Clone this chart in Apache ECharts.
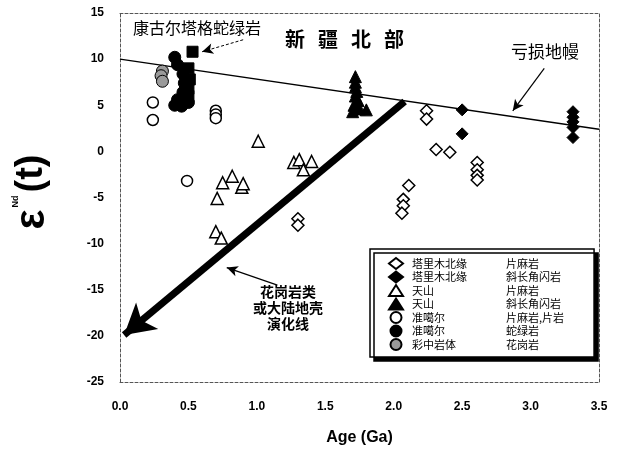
<!DOCTYPE html>
<html>
<head>
<meta charset="utf-8">
<script src="https://cdn.jsdelivr.net/npm/echarts@6/dist/echarts.min.js"></script>
<style>
  html, body { margin: 0; padding: 0; background: #fff; }
  #chart { width: 620px; height: 451px; }
</style>
</head>
<body>
<div id="chart"></div>
<script>
// ---- data: age (Ga), εNd(t) ----
const xTicks = [0, 0.5, 1.0, 1.5, 2.0, 2.5, 3.0, 3.5];
const yTicks = [-25, -20, -15, -10, -5, 0, 5, 10, 15];

const regions = ['塔里木北缘', '塔里木北缘', '天山', '天山', '准噶尔', '准噶尔', '彩中岩体'];
const rocks = ['片麻岩', '斜长角闪岩', '片麻岩', '斜长角闪岩', '片麻岩,片岩', '蛇绿岩', '花岗岩'];

// 塔里木北缘 片麻岩
const tarimGneiss = [
  [2.24, 4.4], [2.24, 3.5], [2.31, 0.2], [2.41, -0.1],
  [2.61, -1.2], [2.61, -2.0], [2.61, -2.6], [2.61, -3.1],
  [2.11, -3.7], [2.07, -5.2], [2.07, -5.9], [2.06, -6.7],
  [1.30, -7.3], [1.30, -8.0]
];
// 塔里木北缘 斜长角闪岩
const tarimAmph = [
  [2.50, 4.5], [2.50, 1.9],
  [3.31, 4.3], [3.31, 3.7], [3.31, 3.2], [3.31, 2.6], [3.31, 1.5]
];
// 天山 片麻岩
const tianshanGneiss = [
  [1.01, 1.1], [1.27, -1.2], [1.31, -0.9], [1.40, -1.1], [1.34, -2.0],
  [0.82, -2.7], [0.75, -3.4], [0.89, -3.9], [0.90, -3.5],
  [0.71, -5.1], [0.70, -8.7], [0.74, -9.4]
];
// 天山 斜长角闪岩
const tianshanAmph = [
  [1.72, 8.1], [1.72, 7.5], [1.72, 7.0], [1.73, 6.5], [1.72, 6.0],
  [1.74, 5.5], [1.71, 5.0], [1.75, 4.6], [1.80, 4.5], [1.70, 4.3]
];
// 准噶尔 片麻岩,片岩
const junggarGneiss = [
  [0.24, 5.3], [0.24, 3.4], [0.70, 4.4], [0.70, 4.0], [0.70, 3.6], [0.49, -3.2]
];
// 准噶尔 蛇绿岩
const junggarOphiolite = [
  [0.40, 10.2], [0.42, 9.4], [0.46, 8.4], [0.47, 7.4], [0.46, 6.4],
  [0.42, 5.6], [0.40, 5.0], [0.45, 4.9], [0.50, 5.3]
];
// 彩中岩体 花岗岩
const caizhongGranite = [[0.31, 8.7], [0.30, 8.2], [0.31, 7.6]];
// 康古尔塔格蛇绿岩
const kangguerOphiolite = [[0.53, 10.8], [0.50, 9.0], [0.51, 7.8], [0.50, 6.8], [0.50, 6.0]];

// depleted mantle evolution line
const mantleLine = [[0, 10.0], [3.5, 2.4]];
// granitoid / continental crust evolution arrow
const crustArrow = [[2.08, 5.4], [0.03, -19.9]];
// pointer arrows
const mantlePointer = [[3.10, 9.0], [2.87, 4.4]];
const kangguerPointer = [[0.90, 12.1], [0.60, 10.8]];
const crustPointer = [[1.15, -14.5], [0.78, -12.6]];

const titleChars = ['新', '疆', '北', '部'];

const CJK = '"Noto Sans CJK SC", sans-serif';
const LAT = '"Liberation Sans", Arial, sans-serif';

function scatter(name, data, symbol, filled, size, fill) {
  return {
    name: name,
    type: 'scatter',
    data: data,
    symbol: symbol,
    symbolSize: size,
    z: 5,
    itemStyle: {
      color: fill || (filled ? '#000' : '#fff'),
      borderColor: '#000',
      borderWidth: filled ? 1 : 1.5,
      opacity: 1
    }
  };
}

const names = regions.map((r, i) => r + ' ' + rocks[i]);

function pointer(coords, width, head, type) {
  return [{ coord: coords[0], symbol: 'none' },
          { coord: coords[1], symbol: 'arrow', symbolSize: head,
            lineStyle: { width: width, type: type || 'solid', color: '#000' } }];
}

const dashedFrame = { show: true, onZero: false, lineStyle: { color: '#555', type: [3, 2], width: 1 } };

const option = {
  animation: false,
  backgroundColor: '#fff',
  grid: { left: 120, right: 21, top: 13, bottom: 69 },
  xAxis: [{
    type: 'value', min: xTicks[0], max: xTicks[xTicks.length - 1], interval: 0.5,
    name: 'Age (Ga)', nameLocation: 'middle', nameGap: 48,
    nameTextStyle: { fontFamily: LAT, fontWeight: 'bold', fontSize: 16, color: '#000' },
    axisLine: dashedFrame,
    axisTick: { show: false },
    splitLine: { show: false },
    axisLabel: { margin: 19, fontFamily: LAT, fontWeight: 'bold', fontSize: 12, color: '#000',
                 formatter: v => v.toFixed(1) }
  }, {
    type: 'value', position: 'top', min: 0, max: 3.5,
    axisLine: dashedFrame,
    axisTick: { show: false }, axisLabel: { show: false }, splitLine: { show: false }
  }],
  yAxis: [{
    type: 'value', min: yTicks[0], max: yTicks[yTicks.length - 1], interval: 5,
    axisLine: dashedFrame,
    axisTick: { show: false },
    splitLine: { show: false },
    axisLabel: { margin: 16, fontFamily: LAT, fontWeight: 'bold', fontSize: 12, color: '#000' }
  }, {
    type: 'value', position: 'right', min: -25, max: 15,
    axisLine: dashedFrame,
    axisTick: { show: false }, axisLabel: { show: false }, splitLine: { show: false }
  }],
  legend: {
    data: names,
    orient: 'vertical',
    left: 370, top: 249,
    padding: [8, 30, 6, 18],
    itemWidth: 14, itemHeight: 11, itemGap: 0.5,
    backgroundColor: '#fff',
    borderColor: '#000', borderWidth: 1.5,
    shadowColor: '#000', shadowBlur: 0, shadowOffsetX: 4, shadowOffsetY: 4,
    selectedMode: false,
    formatter: n => {
      const p = n.split(' ');
      return '{a|' + p[0] + '}{b|' + p[1] + '}';
    },
    textStyle: {
      fontFamily: CJK, fontSize: 11, color: '#000', lineHeight: 11,
      rich: {
        a: { width: 94, padding: [0, 0, 0, 4], fontFamily: CJK, fontSize: 11, lineHeight: 11, color: '#000' },
        b: { fontFamily: CJK, fontSize: 11, lineHeight: 11, color: '#000' }
      }
    }
  },
  series: [
    {
      name: 'mantle', type: 'line', data: mantleLine, symbol: 'none', z: 2,
      lineStyle: { color: '#000', width: 1.5 },
      markLine: {
        silent: true, symbol: ['none', 'none'], label: { show: false },
        data: [
          pointer(crustArrow, 7, [26, 30]),
          pointer(mantlePointer, 1.2, [8, 11]),
          pointer(kangguerPointer, 1, [8, 11], [3, 2]),
          pointer(crustPointer, 1.2, [8, 11])
        ]
      }
    },
    scatter(names[0], tarimGneiss, 'diamond', false, 12),
    scatter(names[1], tarimAmph, 'diamond', true, 12),
    scatter(names[2], tianshanGneiss, 'triangle', false, 12),
    scatter(names[3], tianshanAmph, 'triangle', true, 12),
    scatter(names[4], junggarGneiss, 'circle', false, 11),
    scatter(names[5], junggarOphiolite, 'circle', true, 12),
    scatter(names[6], caizhongGranite, 'circle', true, 12, '#9a9a9a'),
    scatter('康古尔塔格蛇绿岩', kangguerOphiolite, 'rect', true, 11)
  ],
  graphic: [
    { type: 'text', left: 133, top: 20, z: 10,
      style: { text: '康古尔塔格蛇绿岩', font: '16px ' + CJK, fill: '#000' } },
    ...titleChars.map((c, i) => ({
      type: 'text', left: 285 + i * 33, top: 29, z: 10,
      style: { text: c, font: 'bold 20px ' + CJK, fill: '#000' }
    })),
    { type: 'text', left: 511, top: 43, z: 10,
      style: { text: '亏损地幔', font: '17px ' + CJK, fill: '#000' } },
    { type: 'text', x: 288, y: 308, z: 10,
      style: { text: '花岗岩类\n或大陆地壳\n演化线', font: 'bold 14px ' + CJK, fill: '#000',
               align: 'center', verticalAlign: 'middle', lineHeight: 16 } },
    { type: 'text', x: 32, y: 192, rotation: Math.PI / 2, z: 10,
      style: {
        text: '{e|ε}{s|Nd}{p|(t)}', align: 'center', verticalAlign: 'middle',
        rich: {
          e: { font: 'bold 42px ' + LAT, fill: '#000' },
          s: { font: 'bold 9px ' + LAT, fill: '#000', verticalAlign: 'top', padding: [0, 3, 14, 2] },
          p: { font: 'bold 38px ' + LAT, fill: '#000' }
        }
      } }
  ]
};

const chart = echarts.init(document.getElementById('chart'), null, { renderer: 'canvas' });
chart.setOption(option);
</script>
</body>
</html>
